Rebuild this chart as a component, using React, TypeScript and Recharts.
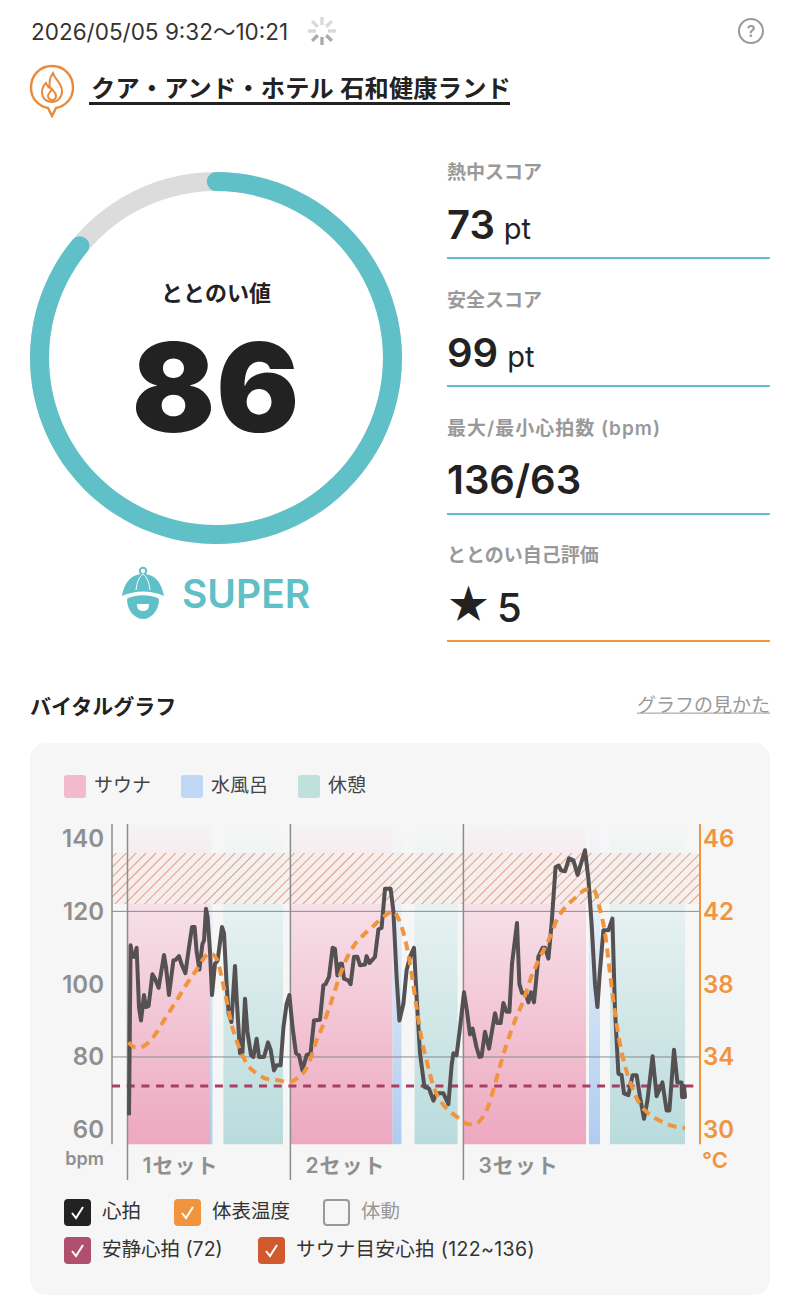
import {
  ComposedChart,
  Line,
  Pie,
  PieChart,
  ReferenceArea,
  ReferenceLine,
  Sector,
  XAxis,
  YAxis,
} from "recharts";

const FONT = "Inter, 'Noto Sans CJK JP', sans-serif";
const TEAL = "#5FC0C8";
const ORANGE = "#F0953E";
const AXIS_GRAY = "#8F8F8F";

// sample number along the session (about 10s per sample)
const hrSamples = [
  0.5, 1.3, 2.2, 3.2, 4.3, 5.5, 6.5, 8, 9, 10.3, 12.2, 13.5, 15.3, 18, 19, 20.5, 22.7, 23.8, 25.5, 26.8,
  28.7, 30.2, 32, 33.3, 34.3, 35.7, 37.2, 38, 39, 39.8, 41, 42, 43.5, 44.8, 47, 48, 49.3, 50.3, 51.7, 53.5,
  54.3, 56, 57.2, 58.5, 59.7, 61.5, 62.7, 64.3, 65.5, 68, 70, 71.3, 73, 74.3, 76.3, 77.7, 79.3, 80.7, 82.3, 84,
  85.5, 87.2, 89.3, 91.3, 93, 96, 97.7, 98.8, 100.5, 102.3, 103.5, 104.7, 106, 107, 108, 110.2, 111.3, 113, 114.7, 116,
  118.5, 119.3, 120.7, 123.5, 125.2, 126.8, 128.5, 131.3, 132.7, 134.3, 135.7, 137.7, 139.3, 141, 143, 144.3, 146, 148.2, 150.5, 152.7,
  154.3, 157.7, 160.2, 161.8, 162.7, 164.3, 166, 168, 169.5, 171, 172.3, 174.2, 175.7, 176.8, 178.5, 180.5, 183.5, 184.7, 186.3, 187.7,
  189.3, 190.7, 192, 194.5, 195.7, 197, 198.7, 200.2, 201.5, 203, 205.2, 207.3, 208.5, 210.2, 211.8, 213.8, 215.3, 216.5, 218.5, 220.5,
  222.7, 224.8, 228.5, 230.2, 231.8, 233.5, 234.7, 236, 237.7, 240.2, 242.2, 243.5, 245.2, 246.8, 248, 250.2, 252.3, 254.3, 256, 258,
  259.7, 262.3, 264.3, 267.2, 269.3, 270.7, 273, 274.7, 276.8, 277, 278.5, 278, 278.5,
];
const hrValues = [
  64, 110.7, 107.5, 107.5, 110, 93.7, 90, 97, 93.7, 94, 102.7, 101.5, 99, 108, 104.7, 97, 106.5, 106.7, 107.7, 105.4,
  103, 109, 115.7, 115.7, 109, 104, 111, 112, 120.7, 118.5, 109, 97, 105.6, 106.5, 115.7, 114, 100, 92, 89.6, 105,
  96.5, 81, 81, 96, 87, 80.5, 80, 85, 80, 80, 84, 82, 76.3, 77.7, 77.7, 88, 94.6, 97, 88, 81,
  80.5, 76.3, 80.5, 81, 90, 90.2, 99.7, 100, 102, 110, 109.7, 102.4, 105.6, 105.6, 101.5, 101, 100, 107.5, 107.5, 105.2,
  105.4, 107.7, 105.8, 107.5, 115, 115.5, 126.2, 126.2, 120, 102, 90, 94.6, 103.8, 107.5, 110, 96.5, 81, 71.8, 71.3, 68,
  70, 70, 67, 77.7, 81, 80.5, 88, 97.8, 92.5, 86.2, 87.8, 82.8, 80, 80.2, 86.9, 82.3, 92, 89.3, 89.3, 94.8,
  92.4, 92.4, 105.6, 116.8, 100, 97.6, 97.6, 95, 97.8, 95, 107.6, 110, 110, 107, 116.6, 132.2, 132.6, 131.3, 131, 134.6,
  134, 130, 136.8, 129, 116.6, 100, 93.7, 103.8, 114.8, 114.8, 118, 92.8, 75.4, 75, 70, 69.5, 75, 75, 69, 63,
  68, 80.2, 69.2, 73, 65.3, 65.3, 82, 73, 73, 69, 69, 72, 69,
];

const tempSamples = [
  0.2, 4.3, 8, 12.7, 18.5, 24.3, 29.3, 34.3, 37.7, 41, 44.3, 46.8, 49.3, 51.8, 54.3, 56.8, 60.2, 64.3, 69.3, 76,
  80.2, 84.3, 86.8, 90.2, 94.3, 97.7, 101.8, 106, 109.3, 113.5, 117.7, 122.7, 127.7, 132.7, 135.2, 138.5, 141.8, 144.3, 146.8, 149.3,
  152.7, 156.8, 161, 166, 170.2, 172.7, 176.8, 180.2, 182.7, 186, 189.3, 193.5, 197.7, 201, 205.2, 210.2, 215.2, 219.3, 224.3, 229.3,
  232.7, 236, 238.5, 241, 243.5, 246, 248.5, 251.8, 256, 260.2, 266, 272.7, 278.5,
];
const tempValues = [
  34.8, 34.5, 34.6, 35.1, 36.1, 37.1, 38, 38.8, 39.4, 39.7, 39.4, 38.4, 37.1, 35.8, 34.9, 34.2, 33.5, 33.1, 32.8, 32.7,
  32.6, 32.8, 33, 33.6, 34.9, 35.8, 37.1, 38.5, 39.4, 40.2, 40.7, 41.2, 41.7, 42, 41.6, 40.5, 38.6, 36.7, 35, 33.8,
  32.4, 31.5, 31, 30.6, 30.3, 30.3, 30.6, 31.3, 32.2, 33.5, 34.7, 36, 37.1, 38.2, 39.3, 40.4, 41.7, 42.3, 42.8, 43.2,
  43.2, 42.1, 40.8, 38.6, 36.4, 34.7, 33.5, 32.4, 31.4, 30.9, 30.5, 30.2, 30.1,
];

const saunaBands = [[0, 41], [81.3, 132.3], [168, 229]];
const waterBands = [[41, 42.2], [132.3, 136.7], [230.5, 236]];
const restBands = [[47.7, 77.5], [143.3, 164.8], [241, 278.5]];
const setStarts = [-0.25, 81.2, 167.7];
const setLabels = ["1セット", "2セット", "3セット"];
const bpmTicks = [60, 80, 100, 120, 140];
const tempTicks = [30, 34, 38, 42, 46];
const gridBpm = [120, 80];
const restingHr = 72;
const targetHr = [122, 136];

const score = [{ name: "score", value: 86 }, { name: "rest", value: 14 }];
const scoreTrack = [{ name: "track", value: 100 }];

const stats = [
  { label: "熱中スコア", value: "73", unit: "pt", spacing: 0 },
  { label: "安全スコア", value: "99", unit: "pt", spacing: 0 },
  { label: "最大/最小心拍数 (bpm)", value: "136/63", unit: "", spacing: 1 },
];
const zoneLegend = [
  { label: "サウナ", color: "#F3B9CD", x: 64 },
  { label: "水風呂", color: "#BFD8F5", x: 181 },
  { label: "休憩", color: "#BFE0DD", x: 298 },
];
const checkLegend = [
  { label: "心拍", color: "#222222", x: 64, y: 1212, on: true },
  { label: "体表温度", color: "#F0953E", x: 174, y: 1212, on: true },
  { label: "体動", color: "", x: 323, y: 1212, on: false },
  { label: "安静心拍 (72)", color: "#B0506F", x: 64, y: 1250, on: true },
  { label: "サウナ目安心拍 (122~136)", color: "#D1592E", x: 258, y: 1250, on: true },
];

const hrData = hrSamples.map((sample, i) => ({ sample, hr: hrValues[i] }));
const tempData = tempSamples.map((sample, i) => ({ sample, temp: tempValues[i] }));

function Txt({ x, y, size, color = "#222", weight = 400, right, center, children, style }: any) {
  return (
    <div
      style={{
        position: "absolute",
        top: y,
        left: center ? x - 300 : right ? undefined : x,
        right: right ? 800 - x : undefined,
        width: center ? 600 : undefined,
        textAlign: center ? "center" : undefined,
        transform: "translateY(-50%)",
        fontSize: size,
        color,
        fontWeight: weight,
        whiteSpace: "nowrap",
        lineHeight: 1.2,
        ...style,
      }}
    >
      {children}
    </div>
  );
}

function Checkbox({ item }: any) {
  return (
    <>
      <svg
        width={27}
        height={27}
        style={{ position: "absolute", left: item.x - 0.5, top: item.y - 13.5 }}
      >
        {item.on ? (
          <>
            <rect width={27} height={27} rx={4} fill={item.color} />
            <polyline points="8,14 12,19 19,8" fill="none" stroke="#fff" strokeWidth={2} />
          </>
        ) : (
          <rect x={1} y={1} width={25} height={25} rx={3} fill="none" stroke="#999" strokeWidth={2} />
        )}
      </svg>
      <Txt
        x={item.x + 38}
        y={item.y}
        size={19.5}
        color={item.on ? "#333" : "#999"}
        style={{ letterSpacing: item.label.length > 10 ? 0.35 : 0 }}
      >
        {item.label}
      </Txt>
    </>
  );
}

// round ends stick out a little past the value, like the app draws them
function ScoreArc(props: any) {
  if (props.name === "rest") return <g />;
  return (
    <Sector
      {...props}
      fill={TEAL}
      startAngle={props.startAngle + 3}
      endAngle={props.endAngle - 3}
      cornerRadius={9.5}
      forceCornerRadius
    />
  );
}

function Gauge() {
  return (
    <PieChart
      width={400}
      height={400}
      margin={{ top: 0, right: 0, bottom: 0, left: 0 }}
      style={{ position: "absolute", left: 16, top: 158 }}
    >
      <Pie
        data={scoreTrack}
        dataKey="value"
        cx={200}
        cy={200}
        innerRadius={167}
        outerRadius={186}
        startAngle={90}
        endAngle={-270}
        fill="#DCDCDC"
        stroke="none"
        isAnimationActive={false}
      />
      <Pie
        data={score}
        dataKey="value"
        cx={200}
        cy={200}
        innerRadius={167}
        outerRadius={186}
        startAngle={90}
        endAngle={-270}
        stroke="none"
        shape={ScoreArc}
        isAnimationActive={false}
      />
    </PieChart>
  );
}

function VitalChart() {
  return (
    <ComposedChart
      width={740}
      height={370}
      margin={{ top: 14, right: 0, bottom: 0, left: 0 }}
      style={{ position: "absolute", left: 30, top: 810 }}
    >
      <defs>
        <linearGradient id="saunaFill" x1="0" y1="0" x2="0" y2="1">
          <stop offset="0" stopColor="#F6F4F5" />
          <stop offset="0.3" stopColor="#F6DCE6" />
          <stop offset="1" stopColor="#EDA8C0" />
        </linearGradient>
        <linearGradient id="waterFill" x1="0" y1="0" x2="0" y2="1">
          <stop offset="0" stopColor="#F5F6F7" />
          <stop offset="0.3" stopColor="#E4EEF8" />
          <stop offset="1" stopColor="#AECCF0" />
        </linearGradient>
        <linearGradient id="restFill" x1="0" y1="0" x2="0" y2="1">
          <stop offset="0" stopColor="#F6F6F6" />
          <stop offset="0.3" stopColor="#E5F0F0" />
          <stop offset="1" stopColor="#B9DBDC" />
        </linearGradient>
        <pattern id="targetHatch" width={7} height={7} patternUnits="userSpaceOnUse" patternTransform="rotate(45)">
          <line x1={0} y1={0} x2={0} y2={7} stroke="#D98B6D" strokeWidth={1.6} />
        </pattern>
      </defs>
      <XAxis type="number" dataKey="sample" domain={[-8, 286]} hide />
      <YAxis
        yAxisId="bpm"
        width={82}
        domain={[46.2, 144]}
        ticks={bpmTicks}
        interval={0}
        axisLine={false}
        tickLine={false}
        tickSize={0}
        tickMargin={8}
        tick={{ fill: AXIS_GRAY, fontSize: 24, fontWeight: 600, fontFamily: FONT }}
      />
      <YAxis
        yAxisId="temp"
        orientation="right"
        width={70}
        domain={[27.24, 46.8]}
        ticks={tempTicks}
        interval={0}
        axisLine={false}
        tickLine={false}
        tickSize={0}
        tickMargin={3}
        tick={{ fill: ORANGE, fontSize: 24, fontWeight: 600, fontFamily: FONT }}
      />
      {saunaBands.map(([a, b]) => (
        <ReferenceArea key={a} yAxisId="bpm" x1={a} x2={b} y1={56} y2={144} fill="url(#saunaFill)" fillOpacity={1} stroke="none" />
      ))}
      {waterBands.map(([a, b]) => (
        <ReferenceArea key={a} yAxisId="bpm" x1={a} x2={b} y1={56} y2={144} fill="url(#waterFill)" fillOpacity={1} stroke="none" />
      ))}
      {restBands.map(([a, b]) => (
        <ReferenceArea key={a} yAxisId="bpm" x1={a} x2={b} y1={56} y2={144} fill="url(#restFill)" fillOpacity={1} stroke="none" />
      ))}
      <ReferenceArea yAxisId="bpm" y1={targetHr[0]} y2={targetHr[1]} fill="#F5EFEC" fillOpacity={0.75} stroke="none" />
      <ReferenceArea yAxisId="bpm" y1={targetHr[0]} y2={targetHr[1]} fill="url(#targetHatch)" fillOpacity={1} stroke="none" />
      {gridBpm.map((v) => (
        <ReferenceLine key={v} yAxisId="bpm" y={v} stroke="#8C8C8C" strokeWidth={1} />
      ))}
      <ReferenceLine yAxisId="bpm" segment={[{ x: -8, y: 56 }, { x: -8, y: 144 }]} stroke="#8C8C8C" strokeWidth={1.5} />
      <ReferenceLine yAxisId="bpm" segment={[{ x: 286, y: 56 }, { x: 286, y: 144 }]} stroke={ORANGE} strokeWidth={2} />
      {setStarts.map((x, i) => (
        <ReferenceLine
          key={x}
          yAxisId="bpm"
          x={x}
          stroke="#8C8C8C"
          strokeWidth={1.5}
          label={{
            value: setLabels[i],
            position: "insideBottomLeft",
            dx: 10,
            dy: -2,
            fill: AXIS_GRAY,
            fontSize: 21,
            fontWeight: 600,
            letterSpacing: 1,
            fontFamily: FONT,
          }}
        />
      ))}
      <ReferenceLine yAxisId="bpm" y={restingHr} stroke="#A63F63" strokeWidth={3} strokeDasharray="8 6.7" />
      <Line
        yAxisId="bpm"
        data={hrData}
        dataKey="hr"
        type="linear"
        stroke="#555052"
        strokeWidth={4}
        strokeLinejoin="round"
        dot={false}
        activeDot={false}
        isAnimationActive={false}
      />
      <Line
        yAxisId="temp"
        data={tempData}
        dataKey="temp"
        type="monotone"
        stroke={ORANGE}
        strokeWidth={4}
        strokeDasharray="9 6"
        dot={false}
        activeDot={false}
        isAnimationActive={false}
      />
    </ComposedChart>
  );
}

export default function App() {
  return (
    <div
      style={{
        position: "absolute",
        left: 0,
        top: 0,
        width: 800,
        height: 1300,
        background: "#fff",
        fontFamily: FONT,
        overflow: "hidden",
      }}
    >
      <Txt x={31} y={31} size={22.5} color="#333">2026/05/05 9:32～10:21</Txt>
      <svg width={34} height={34} style={{ position: "absolute", left: 305, top: 14 }}>
        {[0, 45, 90, 135, 180, 225, 270, 315].map((a, i) => (
          <line
            key={a}
            x1={17}
            y1={3}
            x2={17}
            y2={11}
            stroke={i > 2 && i < 6 ? "#AAA" : "#D9D9D9"}
            strokeWidth={3.4}
            transform={`rotate(${a} 17 17)`}
          />
        ))}
      </svg>
      <svg width={28} height={28} style={{ position: "absolute", left: 737, top: 17 }}>
        <circle cx={14} cy={14} r={12} fill="none" stroke="#999" strokeWidth={2} />
        <text x={14} y={20} textAnchor="middle" fontSize={16} fill="#999" fontWeight={600} fontFamily={FONT}>?</text>
      </svg>
      <svg width={48} height={56} style={{ position: "absolute", left: 28, top: 62 }}>
        <path
          d="M24 54 L20 46 C10 44 3 36 3 26 C3 13 12 4 24 4 C36 4 45 13 45 26 C45 36 38 44 28 46 Z"
          fill="none"
          stroke="#E98A3C"
          strokeWidth={2.4}
        />
        <path
          d="M25 11 C27 18 34 21 34 29 C34 36 29 40 24 40 C18 40 14 36 14 30 C14 26 16 23 18 21 C19 24 20 25 22 26 C21 21 22 15 25 11 Z M24 27 C26 30 28 31 28 34 C28 37 26 38 24 38 C22 38 20 36 20 34 C20 31 23 30 24 27 Z"
          fill="none"
          stroke="#E98A3C"
          strokeWidth={2}
        />
      </svg>
      <Txt x={91} y={89} size={24.2} weight={600} color="#222" style={{ letterSpacing: 0.2 }}>
        クア・アンド・ホテル 石和健康ランド
      </Txt>
      <div style={{ position: "absolute", left: 89, top: 102, width: 421, height: 2.5, background: "#222" }} />

      <Gauge />
      <Txt x={216} y={293} center size={22} weight={700}>ととのい値</Txt>
      <Txt x={216} y={388} center size={123} weight={900} color="#222" style={{ letterSpacing: 1 }}>86</Txt>
      <svg width={48} height={56} style={{ position: "absolute", left: 119, top: 566 }}>
        <circle cx={24} cy={5} r={3.2} fill="none" stroke={TEAL} strokeWidth={2} />
        <path d="M3 30 C6 14 14 8 24 8 C34 8 42 14 45 30 C32 24 16 24 3 30 Z" fill={TEAL} />
        <path d="M17 24 C18 16 20 11 24 8 M31 24 C30 16 28 11 24 8" fill="none" stroke="#fff" strokeWidth={1} />
        <path d="M8 33 C16 28 32 28 40 33 C40 45 32 53 24 53 C16 53 8 45 8 33 Z" fill={TEAL} />
        <path d="M18 38 L30 38 C30 43 28 45 24 45 C20 45 18 43 18 38 Z" fill="#fff" />
      </svg>
      <Txt x={182} y={594} size={39} weight={600} color={TEAL}>SUPER</Txt>

      {stats.map((s, i) => (
        <div key={s.label}>
          <Txt x={447} y={173 + i * 128} size={19} weight={600} color="#999" style={{ letterSpacing: s.spacing }}>
            {s.label}
          </Txt>
          <Txt x={447} y={225 + i * 127.5} size={40} weight={600}>
            {s.value}
            {s.unit && <span style={{ fontSize: 29, fontWeight: 400, marginLeft: 9 }}>{s.unit}</span>}
          </Txt>
          <div style={{ position: "absolute", left: 447, top: 257 + i * 128, width: 323, height: 2, background: TEAL }} />
        </div>
      ))}
      <Txt x={447} y={556} size={19} weight={600} color="#999">ととのい自己評価</Txt>
      <Txt x={446} y={606} size={43} weight={700}>★</Txt>
      <Txt x={497} y={608} size={40} weight={500}>5</Txt>
      <div style={{ position: "absolute", left: 447, top: 640, width: 323, height: 2, background: ORANGE }} />

      <Txt x={30} y={707} size={21} weight={700}>バイタルグラフ</Txt>
      <Txt x={770} y={706} right size={19} color="#999" style={{ textDecoration: "underline" }}>グラフの見かた</Txt>

      <div style={{ position: "absolute", left: 30, top: 743, width: 740, height: 552, borderRadius: 16, background: "#F6F6F6" }} />
      {zoneLegend.map((z) => (
        <div key={z.label}>
          <div style={{ position: "absolute", left: z.x, top: 775, width: 22, height: 23, borderRadius: 3, background: z.color }} />
          <Txt x={z.x + 30} y={786} size={19} color="#444">{z.label}</Txt>
        </div>
      ))}
      <VitalChart />
      <Txt x={104} y={1159} right size={18} weight={600} color={AXIS_GRAY}>bpm</Txt>
      <Txt x={702} y={1160} size={22} weight={600} color={ORANGE}>°C</Txt>
      {checkLegend.map((item) => (
        <Checkbox key={item.label} item={item} />
      ))}
    </div>
  );
}
